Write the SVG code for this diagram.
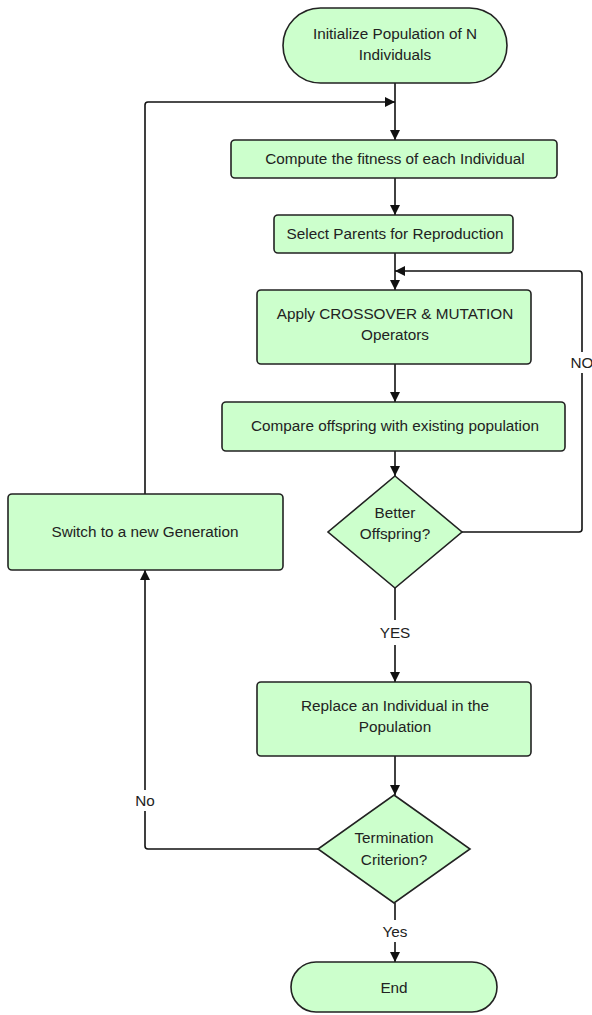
<svg xmlns="http://www.w3.org/2000/svg" width="592" height="1015" viewBox="0 0 592 1015">
<defs>
<style>
.n{fill:#ccffcc;stroke:#222;stroke-width:1.6}
.t{font-family:"Liberation Sans",Arial,sans-serif;font-size:15.3px;fill:#222;text-anchor:middle}
.c{fill:none;stroke:#111;stroke-width:1.6;stroke-linejoin:round}
</style>
<marker id="ah" viewBox="0 0 10 10" refX="10" refY="5" markerWidth="10" markerHeight="10" markerUnits="userSpaceOnUse" orient="auto">
<path d="M0,0 L10,5 L0,10 z" fill="#111"/>
</marker>
</defs>
<rect width="592" height="1015" fill="#fff"/>
<g id="connectors">
<path class="c" d="M395,83 V140" marker-end="url(#ah)"/>
<path class="c" d="M145,494 V105 Q145,102 148,102 H395" marker-end="url(#ah)"/>
<path class="c" d="M395,178 V215" marker-end="url(#ah)"/>
<path class="c" d="M395,253 V290" marker-end="url(#ah)"/>
<path class="c" d="M462,532 H579 Q582,532 582,529 V373"/>
<path class="c" d="M582,352 V274 Q582,271 579,271 H395" marker-end="url(#ah)"/>
<path class="c" d="M395,364 V402" marker-end="url(#ah)"/>
<path class="c" d="M395,451 V476" marker-end="url(#ah)"/>
<path class="c" d="M395,588 V620"/>
<path class="c" d="M395,645 V682" marker-end="url(#ah)"/>
<path class="c" d="M395,756 V795" marker-end="url(#ah)"/>
<path class="c" d="M318,849 H148 Q145,849 145,846 V811"/>
<path class="c" d="M145,790 V570" marker-end="url(#ah)"/>
<path class="c" d="M395,903 V920"/>
<path class="c" d="M395,942 V962" marker-end="url(#ah)"/>
<text class="t" x="582" y="368">NO</text>
<text class="t" x="395" y="638">YES</text>
<text class="t" x="145" y="806">No</text>
<text class="t" x="395" y="937">Yes</text>
</g>
<g id="start">
<rect class="n" x="283" y="8" width="224" height="75" rx="37.5"/>
<text class="t" x="395" y="39">Initialize Population of N</text>
<text class="t" x="395" y="60">Individuals</text>
</g>
<g id="fitness">
<rect class="n" x="231" y="140" width="326" height="38" rx="4"/>
<text class="t" x="395" y="164">Compute the fitness of each Individual</text>
</g>
<g id="select">
<rect class="n" x="274" y="215" width="239" height="38" rx="4"/>
<text class="t" x="395" y="239">Select Parents for Reproduction</text>
</g>
<g id="apply">
<rect class="n" x="257" y="290" width="274" height="74" rx="4"/>
<text class="t" x="395" y="319">Apply CROSSOVER &amp; MUTATION</text>
<text class="t" x="395" y="340">Operators</text>
</g>
<g id="compare">
<rect class="n" x="222" y="402" width="343" height="49" rx="4"/>
<text class="t" x="395" y="431">Compare offspring with existing population</text>
</g>
<g id="better">
<path class="n" d="M395,476 L462,532 L395,588 L328,532 Z"/>
<text class="t" x="395" y="518">Better</text>
<text class="t" x="395" y="539">Offspring?</text>
</g>
<g id="switch">
<rect class="n" x="8" y="494" width="275" height="76" rx="4"/>
<text class="t" x="145" y="537">Switch to a new Generation</text>
</g>
<g id="replace">
<rect class="n" x="257" y="682" width="274" height="74" rx="4"/>
<text class="t" x="395" y="711">Replace an Individual in the</text>
<text class="t" x="395" y="732">Population</text>
</g>
<g id="termination">
<path class="n" d="M394,795 L470,849 L394,903 L318,849 Z"/>
<text class="t" x="394" y="843">Termination</text>
<text class="t" x="394" y="865">Criterion?</text>
</g>
<g id="end">
<rect class="n" x="291" y="962" width="206" height="50" rx="25"/>
<text class="t" x="394" y="993">End</text>
</g>
</svg>
